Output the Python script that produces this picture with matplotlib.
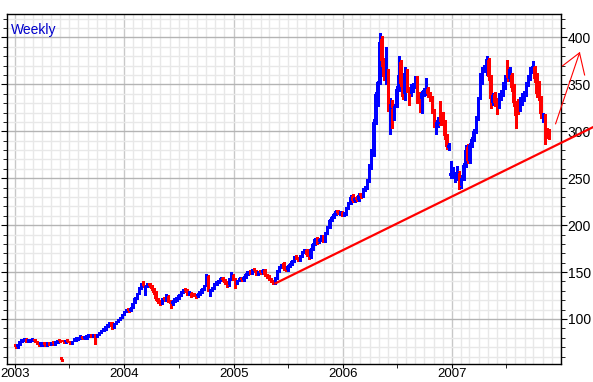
import matplotlib
matplotlib.use('Agg')
import matplotlib.pyplot as plt
import matplotlib.dates as mdates
from matplotlib.ticker import MultipleLocator
import numpy as np
import pandas as pd

plt.rcParams['font.family'] = ['Liberation Sans', 'DejaVu Sans']

# weekly bars, first week ending 2003-01-03
first_week = '2003-01-03'

opens = [
    71, 70, 73, 76, 77, 79, 76, 76, 77, 78,
    76.5, 74, 72, 72, 73, 72, 73, 72.5, 74, 73,
    75, 77, 57, 76, 75, 76, 76, 74, 76.5, 77.5,
    78, 79.5, 81, 79, 79.5, 81, 81.5, 81, 82.5, 81,
    83, 85.5, 87.5, 89, 92, 94, 96.5, 91, 95, 97,
    99.5, 102, 105, 108, 110, 108.5, 112, 117, 122, 127,
    133, 139, 132, 135, 137.5, 135, 132, 129, 121, 118.5,
    117, 121, 120, 125, 119, 116, 119, 120, 122, 126,
    129, 131, 131, 127, 128, 127, 125.5, 124, 127, 129,
    132, 136, 146, 129, 131, 133, 137, 139, 141, 144,
    142, 139, 136, 143, 147, 143, 138, 141, 144, 141,
    145, 148, 150, 149, 152, 151, 148, 150, 149, 152,
    147, 146, 143, 140, 138, 144, 151, 155, 160, 154,
    152, 156, 159, 162, 166, 165, 163, 167, 171, 174,
    168, 166, 175, 180, 186, 182, 184, 189, 183, 192,
    198, 205, 209, 212, 215, 212, 214, 211, 212, 218,
    224, 231, 226, 229, 227, 232, 231, 237, 240, 247,
    262, 276, 310, 335, 352, 398, 375, 355, 361, 324,
    330, 315, 328, 345, 374, 350, 340, 358, 345, 340,
    344, 348, 357, 340, 334, 340, 341, 345, 340, 336,
    322, 304, 308, 330, 318, 310, 295, 282, 252, 255,
    248, 254, 256, 242, 250, 264, 283, 268, 285, 292,
    300, 314, 336, 352, 366, 362, 376, 358, 330, 340,
    333, 327, 335, 340, 347, 371, 356, 360, 348, 330,
    332, 324, 330, 334, 340, 350, 357, 364, 368, 360,
    352, 336, 312, 316, 302, 300]

closes = [
    70, 73, 76, 77, 78, 76, 77, 77, 77.5, 76,
    74, 72, 72.5, 73, 72, 73, 72.5, 74, 73, 75,
    77, 76, 56, 75, 76, 75.5, 74, 76.5, 77.5, 78,
    79.5, 81, 79, 79.5, 81, 81.5, 81, 82, 81, 83,
    85.5, 87.5, 89, 92, 94, 96, 91, 95, 97, 99.5,
    102, 105, 108, 110.5, 108.5, 112, 117, 122, 127, 133,
    137, 135, 135, 137.5, 135, 132, 128, 121, 118.5, 117,
    121, 120, 126, 119, 116, 119, 120, 122, 126, 129,
    131, 130, 127, 128, 124.5, 125, 124, 127, 129, 132,
    135, 146.5, 131, 131, 133, 137, 139, 141, 144, 141,
    138, 135.5, 143, 148, 143, 138, 141, 144, 141, 145,
    148, 150, 149, 152, 151, 148, 150, 149, 152, 147,
    145, 143, 140, 138, 144, 151, 155, 158, 153, 152,
    156, 159, 162, 166, 165, 163, 167, 171, 173, 168,
    165.5, 175, 180, 185, 181, 184, 189, 183, 192, 198,
    205, 209, 212, 215, 213, 214, 211, 212, 218, 224,
    230, 226, 229, 227, 232, 231, 238, 240, 247, 262,
    276, 310, 340, 352, 395, 375, 358, 360, 326, 329,
    325, 327, 345, 360, 350, 337, 362, 344, 333, 347,
    348, 357, 333, 333, 341, 344, 345, 340, 335, 322,
    308, 310, 312, 310, 310, 295, 283, 285, 256, 257,
    255, 257, 241, 250, 264, 280, 268, 285, 292, 300,
    314, 335, 352, 366, 368, 377, 358, 334, 339, 330,
    326, 339, 341, 350, 358, 357, 366, 346, 330, 316,
    320, 335, 338, 340, 350, 358, 366, 370, 356, 340,
    336, 318, 316, 300, 296, 294]

highs = [
    72, 73.5, 76.5, 77.5, 78.5, 80, 77.5, 77.5, 78, 78.5,
    77, 74.5, 73, 73.5, 73.5, 73.5, 73.5, 74.5, 74.5, 75.5,
    77.5, 78, 57.5, 76.5, 76.5, 76.5, 76.5, 77, 78, 78.5,
    80, 81.5, 81.5, 80, 81.5, 82, 82, 82.5, 83, 83.5,
    86, 88, 89.5, 92.5, 94.5, 96.5, 97, 95.5, 97.5, 100,
    102.5, 105.5, 108.5, 111, 111, 112.5, 117.5, 123, 128, 134,
    138, 140, 136, 138.5, 138.5, 136, 133, 130, 122, 119.5,
    122, 122, 127, 126, 120, 120, 121, 123, 127, 130,
    132, 132, 132, 129, 129, 128, 126.5, 128, 130, 133,
    136, 147.5, 147, 132, 134, 138, 140, 142, 145, 145,
    143, 140, 144, 150, 148, 144, 142, 145, 145, 146,
    149, 151, 151, 153, 153, 152, 151, 151, 153, 153,
    148, 147, 144, 141, 145, 152, 156, 159, 161, 155,
    157, 160, 163, 167, 168, 166, 168, 172, 175, 175,
    169, 176, 181, 186, 187, 186, 190, 190, 193, 199,
    206, 210, 213, 216, 216, 215, 215, 213, 219, 225,
    232, 233, 230, 231, 234, 234, 240, 242, 249, 265,
    281, 313, 342, 354, 405, 402, 378, 390, 366, 335,
    333, 329, 348, 380, 376, 352, 368, 366, 347, 350,
    351, 359, 359, 342, 343, 346, 357, 347, 342, 338,
    324, 312, 315, 332, 321, 312, 297, 287, 268, 262,
    257, 263, 258, 253, 266, 285, 286, 288, 294, 302,
    316, 337, 362, 368, 371, 380, 378, 360, 341, 342,
    335, 341, 344, 352, 360, 376, 368, 362, 350, 332,
    334, 337, 341, 343, 352, 360, 368, 375, 370, 362,
    354, 338, 319, 318, 304, 302]

lows = [
    69, 69.5, 72.5, 75.5, 76.5, 75, 75.5, 75.5, 76.5, 75.5,
    73.5, 71.5, 71.5, 71.5, 71.5, 71.5, 72, 72, 72.5, 72.5,
    74.5, 75.5, 55.5, 74.5, 74.5, 75, 73.5, 73.5, 76, 77,
    77.5, 79, 78.5, 78.5, 79, 80.5, 80.5, 80.5, 73, 80.5,
    82.5, 85, 87, 88.5, 91.5, 93.5, 89, 90.5, 94.5, 96.5,
    99, 101.5, 104.5, 107.5, 107.5, 108, 111.5, 116.5, 121.5, 126.5,
    132, 134, 126, 134, 134.5, 131, 127, 120, 117.5, 115,
    116, 119, 119, 118, 112, 115, 118, 119, 121, 125,
    128, 129, 126, 126, 123.5, 124, 122, 123, 126, 128,
    131, 135, 130, 124, 130, 132, 136, 138, 140, 140,
    137, 134.5, 135, 142, 142, 133, 137, 140, 140, 140,
    144, 147, 148, 148, 150, 147, 147, 148, 148, 146,
    144, 142, 139, 137, 137, 143, 150, 154, 152, 151,
    151, 155, 158, 161, 164, 162, 162, 166, 170, 167,
    164, 165, 174, 179, 180, 181, 183, 182, 182, 191,
    197, 204, 208, 211, 212, 211, 210, 210, 211, 217,
    223, 225, 225, 226, 226, 229, 230, 236, 239, 246,
    260, 274, 308, 327, 350, 370, 355, 350, 322, 297,
    304, 312, 326, 343, 348, 334, 333, 342, 328, 338,
    342, 346, 330, 321, 320, 338, 339, 337, 332, 319,
    305, 297, 305, 307, 307, 292, 281, 280, 250, 250,
    246, 248, 238, 240, 248, 262, 266, 266, 283, 290,
    298, 312, 334, 350, 363, 360, 355, 325, 328, 327,
    318, 325, 333, 338, 345, 354, 354, 343, 327, 303,
    318, 322, 328, 332, 338, 348, 355, 362, 353, 337,
    333, 314, 310, 286, 293, 292]

# support trendline and the hand-drawn projection at the right
trend_dates = ['2005-05-21', '2008-04-19']
trend_prices = [138, 304.7]
proj_dates = ['2007-12-14', '2008-03-03', '2008-03-20']
proj_prices = [308, 383.6, 360]
proj2_dates = ['2008-01-06', '2008-03-03']
proj2_prices = [369.7, 383.6]

fig = plt.figure(figsize=(5.93, 3.82), dpi=100)
ax = fig.add_axes([0.0118, 0.0471, 0.9337, 0.9163])

dates = pd.date_range(first_week, periods=len(closes), freq='7D')
x = mdates.date2num(dates)
o = np.array(opens, dtype=float)
c = np.array(closes, dtype=float)
h = np.array(highs, dtype=float)
l = np.array(lows, dtype=float)
colors = np.where(c >= o, '#0000ff', '#ff0000')

# grid first
for m in pd.date_range('2002-12-01', '2008-01-01', freq='MS'):
    if m.month == 1:
        ax.axvline(mdates.date2num(m), color='#c8c8c8', lw=1, zorder=0)
    else:
        ax.axvline(mdates.date2num(m), color='#e8e8e8', lw=1, zorder=0)
ax.yaxis.set_major_locator(MultipleLocator(50))
ax.yaxis.set_minor_locator(MultipleLocator(10))
ax.grid(True, axis='y', which='minor', color='#e8e8e8', lw=1, zorder=0)
ax.grid(True, axis='y', which='major', color='#b4b4b4', lw=1, zorder=0)
ax.set_axisbelow(True)

ax.vlines(x, l, h, colors=colors, lw=1, zorder=2, antialiased=False)
ax.bar(x, np.maximum(np.abs(c - o), 3), bottom=np.minimum(o, c), width=10,
       color=colors, linewidth=0, zorder=3, antialiased=False)

ax.plot(mdates.date2num(pd.to_datetime(trend_dates)), trend_prices,
        color='#ff0000', lw=1.6, clip_on=False, zorder=4)
ax.plot(mdates.date2num(pd.to_datetime(proj_dates)), proj_prices,
        color='#ff0000', lw=0.8, clip_on=False, zorder=4)
ax.plot(mdates.date2num(pd.to_datetime(proj2_dates)), proj2_prices,
        color='#ff0000', lw=0.8, clip_on=False, zorder=4)

ax.set_xlim(mdates.date2num(pd.Timestamp('2002-12-05')),
            mdates.date2num(pd.Timestamp('2007-12-31')))
ax.set_ylim(52, 425)

ax.xaxis.set_major_locator(mdates.YearLocator())
ax.xaxis.set_major_formatter(mdates.DateFormatter('%Y'))
ax.xaxis.set_minor_locator(mdates.MonthLocator(bymonth=7))

ax.tick_params(axis='y', which='both', left=True, right=True,
               labelleft=False, labelright=True, direction='out')
ax.tick_params(axis='y', which='major', length=4, pad=1, labelsize=10)
ax.tick_params(axis='y', which='minor', length=3)
ax.tick_params(axis='x', which='major', length=3, pad=0, labelsize=9.5)
ax.tick_params(axis='x', which='minor', length=3)

for s in ax.spines.values():
    s.set_color('black')
    s.set_linewidth(1)

ax.text(0.007, 0.975, 'Weekly', transform=ax.transAxes, color='#0000cc',
        fontsize=10, ha='left', va='top')

fig.savefig('out.png', dpi=100)
